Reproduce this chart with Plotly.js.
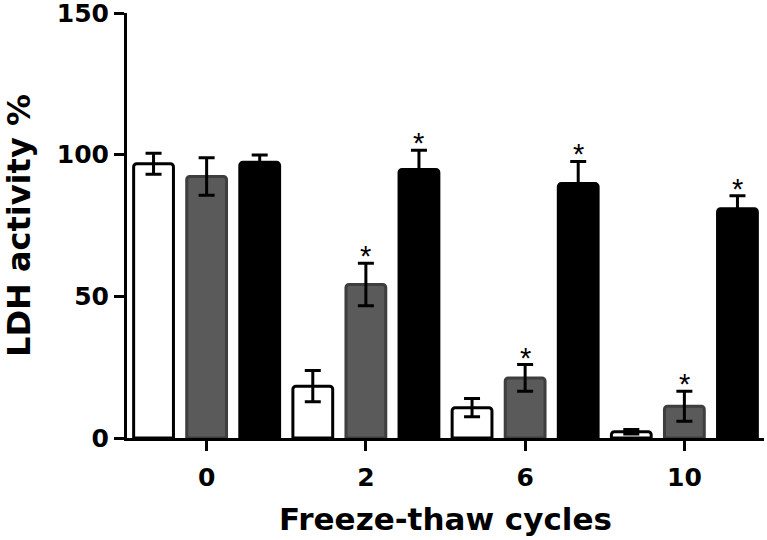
<!DOCTYPE html>
<html>
<head>
<meta charset="utf-8">
<script src="https://cdn.plot.ly/plotly-3.0.1.min.js"></script>
<style>html,body{margin:0;padding:0;background:#fff;}#chart{width:767px;height:540px;}</style>
</head>
<body>
<div id="chart"></div>
<script>
var cycles = ['0', '2', '6', '10'];
var whiteVals = [96.8, 18.3, 10.7, 2.2];
var whiteErr = [3.7, 5.5, 3.2, 0.8];
var grayVals = [92.3, 54.2, 21.2, 11.2];
var grayErr = [6.6, 7.5, 4.7, 5.3];
var blackVals = [97.3, 94.8, 89.8, 80.9];
var blackErr = [2.6, 6.8, 7.8, 4.6];
var grayStar = [false, true, true, true];
var blackStar = [false, true, true, true];
var yTicks = [0, 50, 100, 150];

var FONT = 'DejaVu Sans, Arial, sans-serif';

function barTrace(vals, errs, fill, outline) {
  return {
    type: 'bar', x: cycles, y: vals,
    marker: {color: fill, line: {color: outline, width: 3}, cornerradius: 3},
    error_y: {type: 'data', array: errs, visible: true, color: '#000', thickness: 3, width: 8},
    hoverinfo: 'none', showlegend: false
  };
}

var data = [
  barTrace(whiteVals, whiteErr, '#ffffff', '#000000'),
  barTrace(grayVals, grayErr, '#5a5a5a', '#3e3e3e'),
  barTrace(blackVals, blackErr, '#000000', '#000000')
];

var annotations = [];
function addStars(flags, vals, errs, k) {
  for (var i = 0; i < cycles.length; i++) {
    if (flags[i]) {
      annotations.push({
        x: i + (k - 1) / 3, y: vals[i] + errs[i], xref: 'x', yref: 'y',
        text: '*', showarrow: false, yanchor: 'middle', yshift: 7,
        font: {family: 'Liberation Sans, Arial, sans-serif', size: 29, color: '#000'}
      });
    }
  }
}
addStars(grayStar, grayVals, grayErr, 1);
addStars(blackStar, blackVals, blackErr, 2);

var layout = {
  width: 767, height: 540,
  margin: {l: 127, r: 3, t: 13, b: 102},
  paper_bgcolor: '#fff', plot_bgcolor: '#fff',
  barmode: 'group', bargap: 0, bargroupgap: 0.25,
  xaxis: {
    type: 'category', range: [-0.5, 3.5],
    showline: true, linecolor: '#000', linewidth: 3, showgrid: false, zeroline: false,
    ticks: 'outside', ticklen: 10, tickwidth: 3, tickcolor: '#000', ticklabelstandoff: 5,
    tickfont: {family: FONT, size: 25, color: '#000', weight: 'bold'},
    title: {text: 'Freeze-thaw cycles', font: {family: FONT, size: 31, color: '#000', weight: 'bold'}, standoff: 18}
  },
  yaxis: {
    range: [0, 150], tickvals: yTicks, ticktext: yTicks.map(String),
    ticklabeloverflow: 'allow',
    showline: true, linecolor: '#000', linewidth: 3, showgrid: false, zeroline: false,
    ticks: 'outside', ticklen: 10, tickwidth: 3, tickcolor: '#000',
    tickfont: {family: FONT, size: 25, color: '#000', weight: 'bold'},
    title: {text: 'LDH activity %', font: {family: FONT, size: 32, color: '#000', weight: 'bold'}, standoff: 24}
  },
  annotations: annotations
};

Plotly.newPlot('chart', data, layout, {displayModeBar: false, staticPlot: true});
</script>
</body>
</html>
